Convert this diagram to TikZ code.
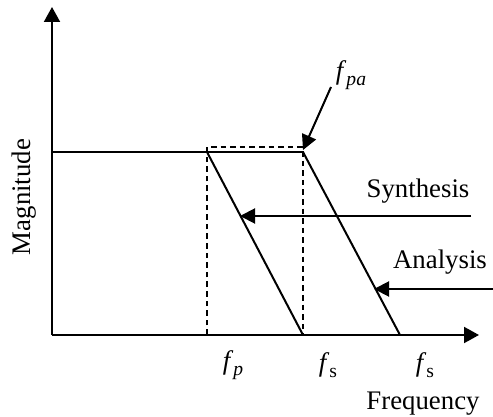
\documentclass[tikz,border=0pt]{standalone}
\usepackage{fontspec}
\setmainfont{Liberation Serif}
\usetikzlibrary{arrows.meta}
\newcommand\mysub[1]{\raisebox{-0.45ex}{\fontsize{9.8}{9.8}\selectfont #1}}
\tikzset{
  lbl/.style={inner sep=0pt, font=\fontsize{13.4}{15}\selectfont},
  axis/.style={line width=1pt, -{Triangle[length=7.5pt,width=8pt]}},
  curve/.style={line width=1pt},
  guide/.style={line width=1pt, dash pattern=on 2.8pt off 2pt},
  pointer/.style={line width=1pt, -{Triangle[length=7.5pt,width=7.5pt]}}
}
\begin{document}
\begin{tikzpicture}[x=0.5pt,y=-0.5pt]
\path[use as bounding box, fill=white] (0,0) rectangle (493,417);
% coordinates
\coordinate (O) at (52,335);
\coordinate (Ytip) at (52,7);
\coordinate (Xtip) at (479,335);
\coordinate (L) at (52,152);
\coordinate (P) at (207,152);
\coordinate (Q) at (303,152);
\coordinate (Ptop) at (207,147);
\coordinate (Qtop) at (303,147);
\coordinate (Pb) at (207,335);
\coordinate (Qb) at (303,335);
\coordinate (R) at (400,335);
\coordinate (Sfrom) at (471,216);
\coordinate (Sto) at (240,216);
\coordinate (Afrom) at (493,289);
\coordinate (Ato) at (374,289);
\coordinate (Ffrom) at (331,87);
\coordinate (Fto) at (303,150);
% axes
\draw[axis] (O) -- (Ytip);
\draw[axis] (O) -- (Xtip);
% dashed guides
\draw[guide] (Pb) -- (Ptop) -- (Qtop) -- (Qb);
% magnitude responses
\draw[curve] (L) -- (Q);
\draw[curve] (P) -- (Qb);
\draw[curve] (Q) -- (R);
% pointers
\draw[pointer] (Sfrom) -- (Sto);
\draw[pointer] (Afrom) -- (Ato);
\draw[pointer] (Ffrom) -- (Fto);
% labels
\node[lbl] (fpa) at (351,75) {\textit{f}\mysub{\textit{pa}}};
\node[lbl] (syn) at (418,191) {Synthesis};
\node[lbl] (ana) at (440,262) {Analysis};
\node[lbl] (fp) at (233,365) {\textit{f}\mysub{\textit{p}}};
\node[lbl] (fs1) at (328,365) {\textit{f}\mysub{s}};
\node[lbl] (fs2) at (425,365) {\textit{f}\mysub{s}};
\node[lbl] (freq) at (423,404) {Frequency};
\node[lbl, rotate=90] (mag) at (24,197) {Magnitude};
\end{tikzpicture}
\end{document}
